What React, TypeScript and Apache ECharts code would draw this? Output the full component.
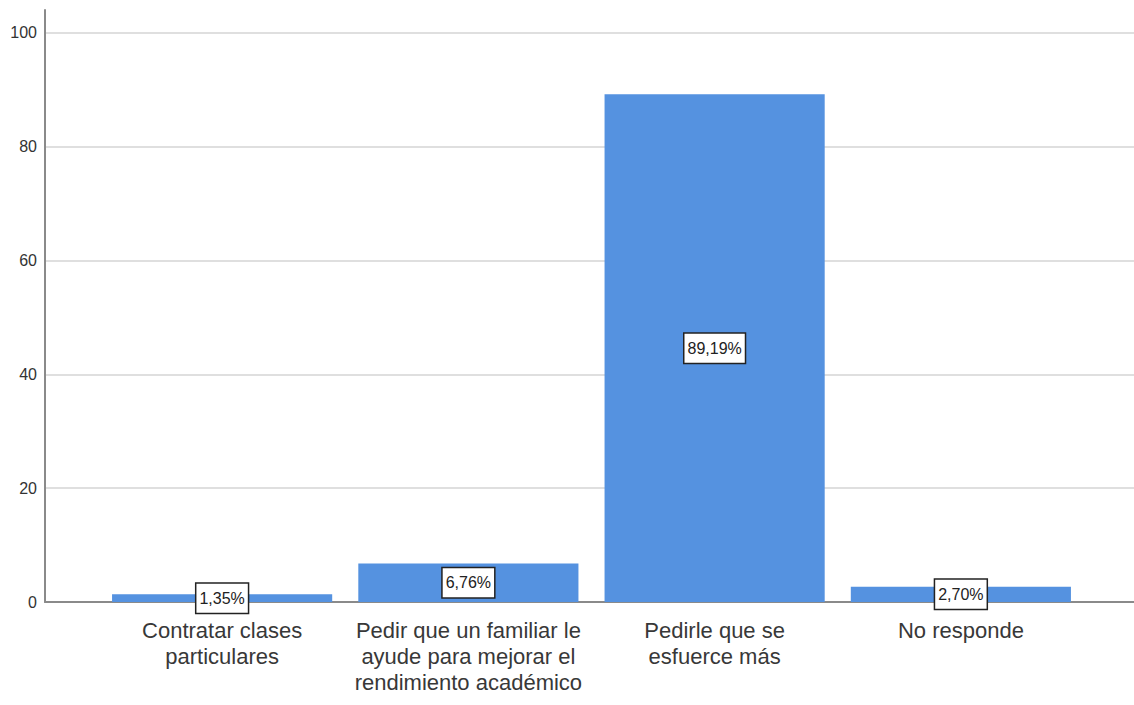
import React, { useEffect, useRef } from "react";
import * as echarts from "echarts";

const categories = [
  "Contratar clases\nparticulares",
  "Pedir que un familiar le\nayude para mejorar el\nrendimiento académico",
  "Pedirle que se\nesfuerce más",
  "No responde",
];
const percentValues = [1.35, 6.76, 89.19, 2.7];
const yTickMin = 0;
const yTickMax = 104;
const yTickInterval = 20;

const FONT = '"Liberation Sans Narrow", "Liberation Sans", Arial, sans-serif';

export default function App() {
  const ref = useRef<HTMLDivElement>(null);
  useEffect(() => {
    if (!ref.current) return;
    const chart = echarts.init(ref.current, undefined, { renderer: "svg" });
    chart.setOption({
      animation: false,
      backgroundColor: "#ffffff",
      grid: [
        { left: 45, right: 0, top: 10, bottom: 103, containLabel: false },
        { left: 99, right: 50, top: 10, bottom: 103, containLabel: false },
      ],
      xAxis: [
        {
          type: "value",
          gridIndex: 0,
          min: 0,
          max: 1,
          axisLine: { show: true, lineStyle: { color: "#8a8a8a", width: 2 } },
          axisTick: { show: false },
          axisLabel: { show: false },
          splitLine: { show: false },
        },
        {
          type: "category",
          gridIndex: 1,
          data: categories,
          axisLine: { show: false },
          axisTick: { show: false },
          axisLabel: {
            interval: 0,
            margin: 15,
            fontFamily: FONT,
            fontSize: 22,
            lineHeight: 26,
            color: "#383838",
            align: "center",
          },
        },
      ],
      yAxis: [
        {
          type: "value",
          gridIndex: 0,
          min: yTickMin,
          max: yTickMax,
          interval: yTickInterval,
          axisLine: { show: true, lineStyle: { color: "#8a8a8a", width: 2 } },
          axisTick: { show: false },
          axisLabel: {
            showMaxLabel: false,
            margin: 8,
            fontFamily: FONT,
            fontSize: 16,
            color: "#333333",
          },
          splitLine: {
            show: true,
            showMaxLine: false,
            lineStyle: { color: "#d4d4d4", width: 1.5 },
          },
        },
        {
          type: "value",
          gridIndex: 1,
          min: yTickMin,
          max: yTickMax,
          show: false,
          splitLine: { show: false },
        },
      ],
      series: [
        {
          type: "bar",
          xAxisIndex: 1,
          yAxisIndex: 1,
          data: percentValues,
          barCategoryGap: "10.6%",
          itemStyle: { color: "#5592e0" },
          label: {
            show: true,
            position: "inside",
            formatter: (p: any) => p.value.toFixed(2).replace(".", ",") + "%",
            fontFamily: FONT,
            fontSize: 16,
            color: "#222222",
            backgroundColor: "#ffffff",
            borderColor: "#222222",
            borderWidth: 1.5,
            padding: [7, 3, 6, 3],
          },
        },
      ],
    });
    return () => chart.dispose();
  }, []);
  return (
    <div
      ref={ref}
      style={{ position: "fixed", left: 0, top: 0, width: 1134, height: 705 }}
    />
  );
}
